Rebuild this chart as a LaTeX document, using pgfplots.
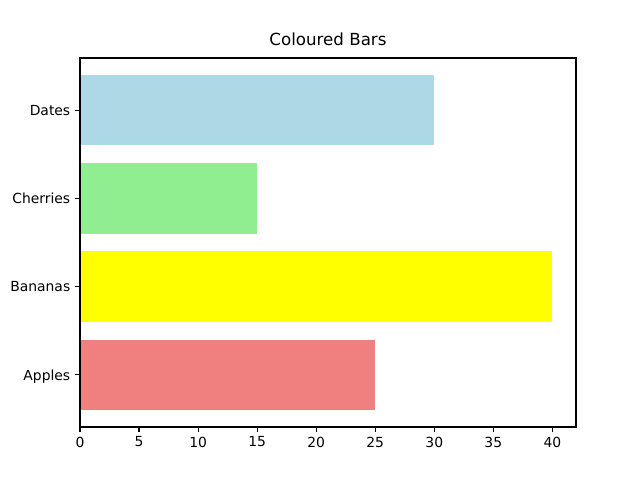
\documentclass[border=0pt]{standalone}
\usepackage{pgfplots}
\pgfplotsset{compat=1.18}
\usepackage{fontspec}
\setmainfont{DejaVu Sans}
\definecolor{lcoral}{RGB}{240,128,128}
\definecolor{lgreen}{RGB}{144,238,144}
\definecolor{lblue}{RGB}{173,216,230}
\definecolor{yel}{RGB}{255,255,0}
\begin{document}
\begin{tikzpicture}
\path[use as bounding box] (0,0) rectangle (460.8pt,345.6pt);
\begin{axis}[
  at={(57.6pt,38.16pt)}, anchor=south west,
  scale only axis, width=357.12pt, height=265.68pt,
  xbar, bar width=0.8, bar shift=0pt,
  axis on top,
  xmin=0, xmax=42, ymin=-0.59, ymax=3.59,
  ytick={0,1,2,3}, yticklabels={Apples,Bananas,Cherries,Dates},
  xtick={0,5,...,40},
  tick align=outside, tick pos=left,
  major tick length=3.5pt,
  every tick/.style={black, line width=0.8pt},
  axis line style={line width=0.8pt},
  tick label style={font=\fontsize{10}{12}\selectfont},
  yticklabel style={anchor=base east, yshift=-3.7pt},
  /pgf/number format/assume math mode=true,
  title={Coloured Bars},
  title style={font=\fontsize{12}{14}\selectfont, yshift=-1pt},
]
\addplot[draw=none, fill=lcoral] coordinates {(25,0)};
\addplot[draw=none, fill=yel] coordinates {(40,1)};
\addplot[draw=none, fill=lgreen] coordinates {(15,2)};
\addplot[draw=none, fill=lblue] coordinates {(30,3)};
\end{axis}
\end{tikzpicture}
\end{document}
